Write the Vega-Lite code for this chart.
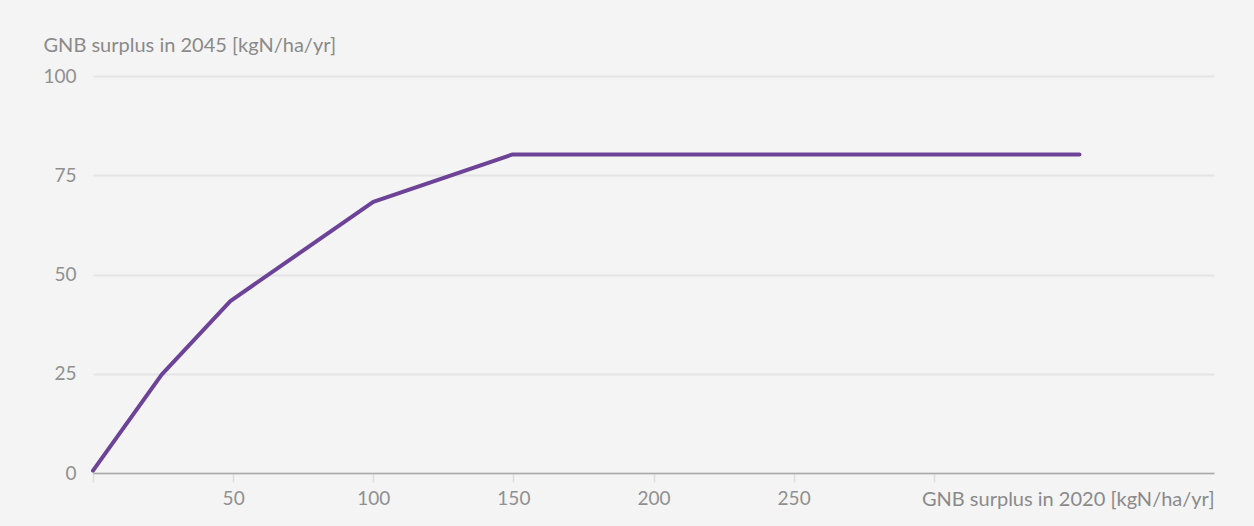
{
  "$schema": "https://vega.github.io/schema/vega-lite/v6.json",
  "width": 1121,
  "height": 397,
  "autosize": {"type": "none"},
  "padding": {"left": 93, "top": 76, "right": 40, "bottom": 53},
  "background": "#f4f4f4",
  "config": {
    "view": {"stroke": null},
    "font": "Lato",
    "axis": {"labelColor": "#909090", "titleColor": "#8a8a8a", "labelFont": "Lato", "titleFont": "Lato", "labelFontWeight": "normal", "titleFontWeight": "normal"}
  },
  "data": {
    "values": [
      {"x2020": 0, "y2045": 0.6},
      {"x2020": 24.5, "y2045": 24.8},
      {"x2020": 49, "y2045": 43.3},
      {"x2020": 100, "y2045": 68.3},
      {"x2020": 149.5, "y2045": 80.2},
      {"x2020": 352, "y2045": 80.2}
    ]
  },
  "mark": {"type": "line", "color": "#6c4397", "strokeWidth": 4, "strokeCap": "round", "strokeJoin": "round"},
  "encoding": {
    "x": {
      "field": "x2020",
      "type": "quantitative",
      "scale": {"domain": [0, 400], "nice": false, "zero": true},
      "axis": {
        "values": [0, 50, 100, 150, 200, 250, 300],
        "labelExpr": "datum.value == 0 || datum.value == 300 ? '' : datum.label",
        "grid": false,
        "domain": true,
        "domainColor": "#aaaaaa",
        "domainWidth": 1.5,
        "ticks": true,
        "tickColor": "#dddddd",
        "tickWidth": 1.5,
        "tickSize": 9,
        "labelPadding": 16,
        "labelBaseline": "middle",
        "labelFontSize": 19,
        "title": "GNB surplus in 2020 [kgN/ha/yr]",
        "titleFontSize": 20,
        "titleAlign": "right",
        "titleAnchor": null,
        "titleX": 1121,
        "titleY": 26,
        "titleBaseline": "middle"
      }
    },
    "y": {
      "field": "y2045",
      "type": "quantitative",
      "scale": {"domain": [0, 100], "nice": false},
      "axis": {
        "values": [0, 25, 50, 75, 100],
        "grid": true,
        "gridColor": "#e4e4e4",
        "gridWidth": 2,
        "domain": false,
        "ticks": false,
        "tickSize": 0,
        "labelPadding": 17,
        "labelFontSize": 19,
        "title": "GNB surplus in 2045 [kgN/ha/yr]",
        "titleFontSize": 20,
        "titleAngle": 0,
        "titleAlign": "left",
        "titleAnchor": null,
        "titleX": -50,
        "titleY": -31,
        "titleBaseline": "middle"
      }
    }
  }
}
